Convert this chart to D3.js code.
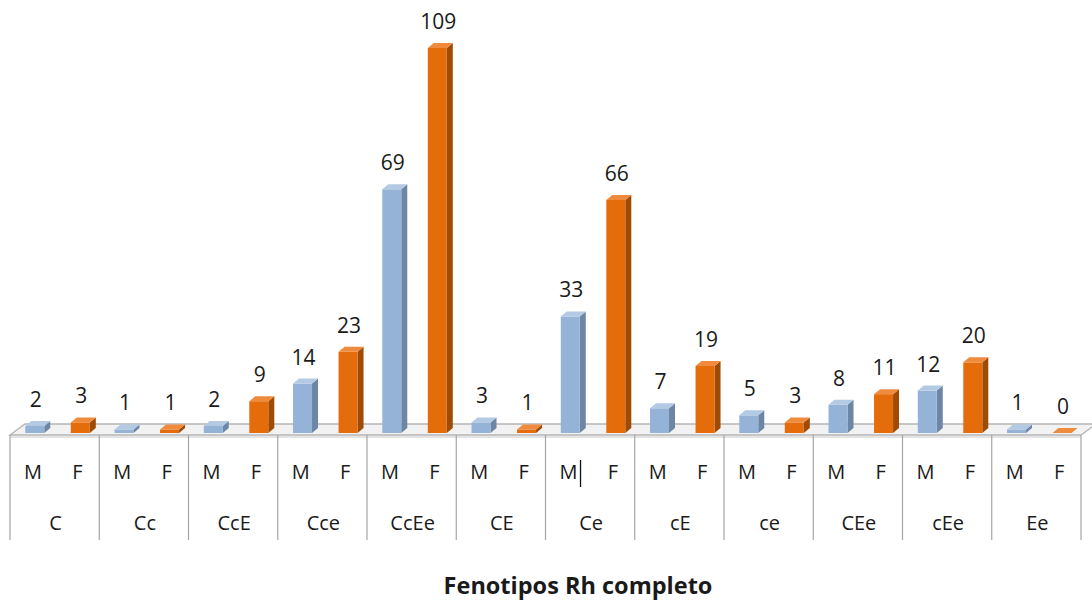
<!DOCTYPE html>
<html>
<head>
<meta charset="utf-8">
<script src="https://cdn.jsdelivr.net/npm/d3@7"></script>
<style>
  html, body { margin: 0; padding: 0; background: #fff; }
  svg { display: block; }
  text { font-family: "Open Sans", Lato, sans-serif; fill: #1a1a1a; }
</style>
</head>
<body>
<svg id="chart" width="1092" height="602"></svg>
<script>
// Rh phenotype counts by sex
const categories = ["C", "Cc", "CcE", "Cce", "CcEe", "CE", "Ce", "cE", "ce", "CEe", "cEe", "Ee"];
const sexes = ["M", "F"];
const valuesM = [2, 1, 2, 14, 69, 3, 33, 7, 5, 8, 12, 1];
const valuesF = [3, 1, 9, 23, 109, 1, 66, 19, 3, 11, 20, 0];
const axisTitle = "Fenotipos Rh completo";

const svg = d3.select("#chart");

const floorFront = 435, floorBack = 424;
const left = 10, right = 1081;
const depthX = 6, depthY = 5;

const x = d3.scaleBand().domain(categories).range([left, right]).paddingInner(0).paddingOuter(0);
const bw = x.bandwidth();
const xBar = d3.scalePoint().domain(sexes).range([bw * 0.30, bw * 0.81]);
const xLab = d3.scalePoint().domain(sexes).range([bw * 0.258, bw * 0.756]);
const y = d3.scaleLinear().domain([0, 109]).range([433, 48]);

const colors = {
  M: { front: "#95b3d7", side: "#6d86a6", top: "#b4c9e3" },
  F: { front: "#e46c0a", side: "#9f4b06", top: "#f08a3c" }
};

// floor
const g = svg.append("g");
g.append("path")
  .attr("d", `M${left},${floorFront} L${left + 15},${floorBack} L${right + 15},${floorBack} L${right},${floorFront} Z`)
  .attr("fill", "#f2f2f2").attr("stroke", "#b5b5b5").attr("stroke-width", 1.3);
g.append("line").attr("x1", left).attr("x2", right).attr("y1", floorFront + 2).attr("y2", floorFront + 2)
  .attr("stroke", "#c8c8c8").attr("stroke-width", 1);

// category table lines
const dividers = categories.map(c => x(c)).concat([right]);
g.selectAll("line.div").data(dividers).join("line")
  .attr("class", "div")
  .attr("x1", d => d).attr("x2", d => d)
  .attr("y1", floorFront).attr("y2", 540)
  .attr("stroke", "#a6a6a6").attr("stroke-width", 1.2);

// bars
const rows = [];
categories.forEach((c, i) => {
  rows.push({ cat: c, sex: "M", v: valuesM[i] });
  rows.push({ cat: c, sex: "F", v: valuesF[i] });
});
const barW = 19;
const bars = svg.append("g").selectAll("g.bar").data(rows).join("g").attr("class", "bar");
bars.each(function (d) {
  const gg = d3.select(this);
  const x0 = x(d.cat) + xBar(d.sex) - barW / 2 - 2;
  const yt = y(d.v), yb = y(0);
  const col = colors[d.sex];
  // side face
  gg.append("path")
    .attr("d", `M${x0 + barW},${yb} L${x0 + barW},${yt} L${x0 + barW + depthX},${yt - depthY} L${x0 + barW + depthX},${yb - depthY} Z`)
    .attr("fill", col.side);
  // front face
  gg.append("rect").attr("x", x0).attr("y", yt).attr("width", barW).attr("height", Math.max(0, yb - yt))
    .attr("fill", col.front);
  // top face
  gg.append("path")
    .attr("d", `M${x0},${yt} L${x0 + depthX},${yt - depthY} L${x0 + barW + depthX},${yt - depthY} L${x0 + barW},${yt} Z`)
    .attr("fill", col.top);
  // value label
  gg.append("text")
    .attr("x", x0 + barW / 2 + 1)
    .attr("y", yt - 19)
    .attr("text-anchor", "middle")
    .attr("font-size", 21)
    .text(d.v);
});

// sex labels and phenotype labels
const labG = svg.append("g");
categories.forEach(c => {
  sexes.forEach(s => {
    labG.append("text")
      .attr("x", x(c) + xLab(s))
      .attr("y", 479)
      .attr("text-anchor", "middle")
      .attr("font-size", 20)
      .text(s);
  });
  labG.append("text")
    .attr("x", x(c) + bw / 2 + 1)
    .attr("y", 530)
    .attr("text-anchor", "middle")
    .attr("font-size", 20)
    .text(c);
});

// stray caret after "M" in the Ce column
labG.append("line")
  .attr("x1", x("Ce") + xLab("M") + 12).attr("x2", x("Ce") + xLab("M") + 12)
  .attr("y1", 460).attr("y2", 487)
  .attr("stroke", "#111").attr("stroke-width", 1.3);

// axis title
svg.append("text")
  .attr("x", 578).attr("y", 594)
  .attr("text-anchor", "middle")
  .attr("font-size", 23.5).attr("font-weight", "bold")
  .text(axisTitle);
</script>
</body>
</html>
